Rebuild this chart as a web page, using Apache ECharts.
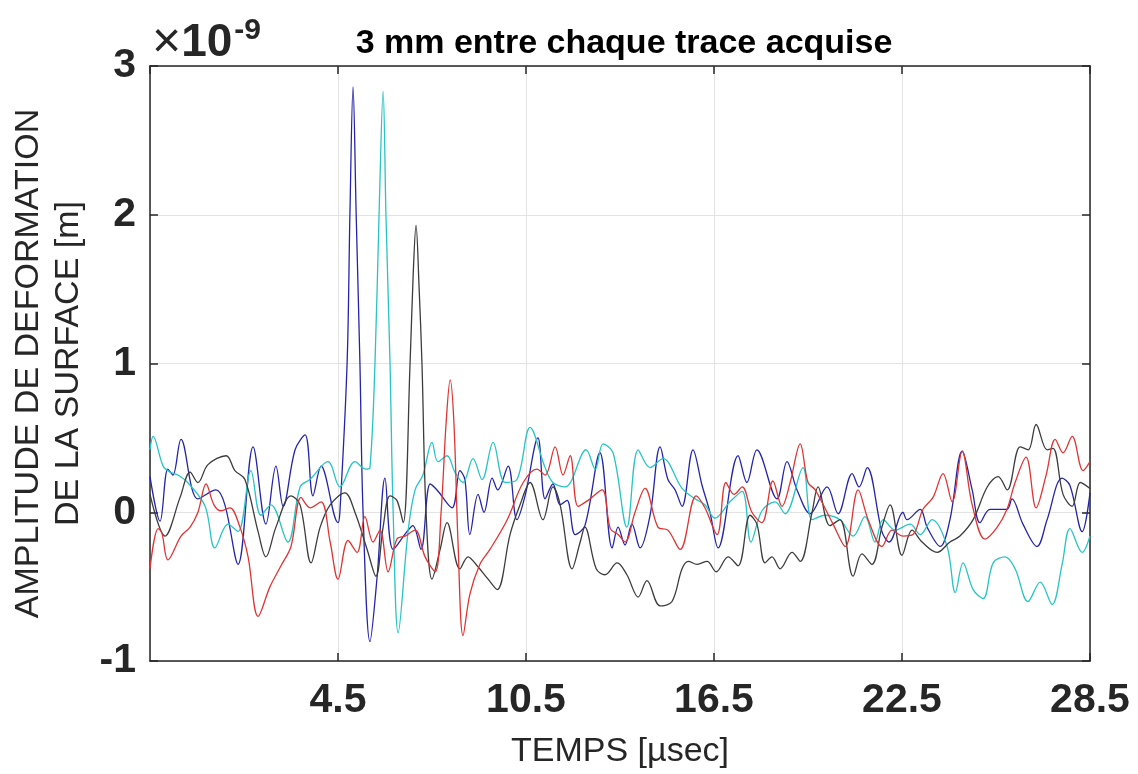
<!DOCTYPE html>
<html>
<head>
<meta charset="utf-8">
<script src="https://cdn.jsdelivr.net/npm/echarts@6/dist/echarts.min.js"></script>
<style>
html,body{margin:0;padding:0;background:#fff;}
#chart{width:1138px;height:774px;}
</style>
</head>
<body>
<div id="chart"></div>
<script>
// Axis definitions (time in µs, amplitude in units of 1e-9 m)
const xTicks = [4.5, 10.5, 16.5, 22.5, 28.5];
const yTicks = [-1, 0, 1, 2, 3];
const titleText = '3 mm entre chaque trace acquise';
const xName = 'TEMPS [µsec]';
const yNameLines = ['AMPLITUDE DE DEFORMATION', 'DE LA SURFACE [m]'];

// Traces: [time µs, amplitude ×1e-9 m]
const traceBlue = [[-1.5,0.24],[-1.18,-0.06],[-0.93,0.29],[-0.77,0.25],[-0.51,0.49],[0.03,0.09],[0.61,0.15],[0.89,0.05],[1.31,-0.35],[1.79,0.44],[2.2,-0.08],[2.52,0.31],[2.75,0.04],[3.13,0.42],[3.45,0.52],[3.7,0.11],[3.96,0.31],[4.5,-0.07],[4.56,0.0],[4.79,1.0],[4.88,2.0],[4.98,2.86],[5.08,2.0],[5.2,1.0],[5.3,0.0],[5.52,-0.87],[5.75,-0.43],[6.0,0.23],[6.26,-0.25],[6.7,-0.13],[6.89,-0.09],[7.15,-0.25],[7.44,0.19],[7.66,0.15],[8.14,0.03],[8.39,0.28],[8.55,0.22],[8.71,-0.15],[8.97,0.12],[9.16,0.0],[9.42,0.23],[9.6,0.15],[9.93,0.31],[10.21,-0.05],[10.47,0.11],[10.88,0.5],[11.11,0.09],[11.36,0.19],[11.59,0.05],[11.81,0.08],[12.07,-0.15],[12.38,-0.09],[12.86,0.4],[13.25,-0.24],[13.44,-0.1],[13.66,-0.22],[13.88,-0.08],[14.14,-0.24],[14.46,-0.02],[14.78,0.44],[15.03,0.22],[15.26,0.15],[15.48,0.04],[15.83,0.42],[16.12,0.18],[16.37,0.0],[16.63,-0.24],[17.27,0.38],[17.55,0.2],[17.87,0.42],[18.51,0.09],[18.83,0.34],[19.15,0.15],[19.57,-0.01],[20.11,0.17],[20.46,-0.01],[20.91,0.26],[21.13,0.17],[21.39,0.3],[21.86,-0.13],[22.09,-0.2],[22.53,0.0],[22.66,-0.05],[23.08,0.02],[23.3,-0.1],[23.72,-0.23],[24.03,-0.05],[24.42,0.41],[24.74,0.15],[24.99,-0.07],[25.31,0.02],[25.85,0.02],[26.01,0.09],[26.36,-0.08],[26.81,-0.23],[27.13,-0.05],[27.61,0.23],[27.86,0.18],[28.25,-0.13],[28.5,0.13]];

const traceCyan = [[-1.5,0.42],[-1.4,0.51],[-1.08,0.31],[-0.86,0.27],[-0.61,0.25],[-0.3,0.2],[0.26,0.04],[0.57,-0.24],[0.99,-0.08],[1.31,-0.13],[1.72,0.28],[2.04,-0.02],[2.36,0.05],[2.9,-0.2],[3.29,0.17],[3.6,0.22],[4.18,0.34],[4.56,0.17],[5.04,0.34],[5.39,0.29],[5.52,0.3],[5.68,1.0],[5.81,2.0],[5.94,2.83],[6.03,2.0],[6.16,1.0],[6.26,0.0],[6.42,-0.81],[6.74,-0.12],[6.96,0.15],[7.21,0.25],[7.5,0.47],[7.69,0.34],[7.98,0.38],[8.23,0.27],[8.49,0.2],[8.81,0.36],[9.1,0.22],[9.45,0.47],[9.83,0.2],[10.21,0.22],[10.63,0.57],[11.11,0.3],[11.36,0.2],[11.75,0.17],[12.42,0.42],[12.71,0.29],[12.96,0.46],[13.28,0.4],[13.72,-0.1],[14.08,0.42],[14.46,0.3],[14.87,0.36],[15.48,0.16],[15.9,0.09],[16.21,0.05],[16.53,-0.04],[17.01,0.07],[17.4,0.14],[17.68,-0.2],[18.03,0.01],[18.45,0.07],[18.77,-0.01],[19.34,0.3],[19.63,-0.05],[20.04,-0.02],[20.52,-0.05],[20.94,-0.16],[21.32,-0.03],[21.64,-0.2],[21.9,-0.05],[22.28,-0.12],[22.76,-0.08],[23.08,-0.15],[23.46,-0.05],[23.94,-0.23],[24.2,-0.54],[24.45,-0.34],[24.77,-0.52],[25.09,-0.58],[25.41,-0.34],[25.79,-0.3],[26.11,-0.38],[26.52,-0.6],[26.91,-0.47],[27.29,-0.62],[27.61,-0.35],[27.86,-0.11],[28.25,-0.27],[28.5,-0.16]];

const traceBlack = [[-1.5,0.12],[-1.02,-0.16],[-0.54,0.1],[-0.22,0.27],[0.03,0.2],[0.35,0.32],[0.93,0.38],[1.21,0.28],[1.53,0.22],[1.95,-0.13],[2.2,-0.3],[2.52,-0.1],[3.0,0.11],[3.29,0.05],[3.64,-0.34],[3.93,-0.1],[4.25,0.05],[4.72,0.13],[5.04,0.0],[5.43,-0.25],[5.71,-0.43],[5.94,-0.1],[6.16,0.11],[6.38,0.08],[6.58,-0.07],[6.8,1.0],[6.9,1.6],[6.99,1.93],[7.09,1.5],[7.18,1.0],[7.31,0.0],[7.5,-0.45],[7.76,-0.25],[7.98,-0.07],[8.39,-0.38],[8.65,-0.3],[8.94,-0.36],[9.29,-0.45],[9.58,-0.52],[9.99,-0.15],[10.31,0.05],[10.63,0.2],[11.04,-0.05],[11.36,0.17],[11.59,0.05],[11.97,-0.38],[12.23,-0.2],[12.38,-0.1],[12.74,-0.38],[13.02,-0.42],[13.41,-0.34],[13.72,-0.42],[14.08,-0.57],[14.36,-0.46],[14.78,-0.63],[15.16,-0.6],[15.48,-0.38],[15.68,-0.33],[15.96,-0.35],[16.28,-0.33],[16.57,-0.4],[16.95,-0.3],[17.27,-0.36],[17.65,-0.02],[17.87,-0.08],[18.13,-0.34],[18.35,-0.3],[18.61,-0.38],[18.99,-0.27],[19.25,-0.33],[19.63,0.0],[19.82,0.17],[20.2,-0.09],[20.52,-0.05],[20.94,-0.43],[21.22,-0.28],[21.54,-0.35],[21.86,-0.1],[22.12,0.05],[22.5,-0.29],[22.82,-0.12],[23.14,-0.2],[23.62,-0.27],[24.03,-0.2],[24.35,-0.16],[24.77,-0.05],[25.22,0.17],[25.57,0.24],[25.86,0.15],[26.27,0.44],[26.53,0.42],[26.78,0.59],[27.13,0.42],[27.32,0.43],[27.64,0.12],[27.93,0.04],[28.19,0.2],[28.5,0.16]];

const traceRed = [[-1.5,-0.38],[-1.24,-0.11],[-1.12,-0.14],[-0.93,-0.32],[-0.51,-0.16],[-0.22,-0.1],[0.03,0.0],[0.29,0.19],[0.54,0.05],[0.77,0.01],[1.05,0.03],[1.37,-0.1],[1.63,-0.3],[1.95,-0.7],[2.33,-0.5],[2.68,-0.36],[3.0,-0.23],[3.32,0.1],[3.61,0.03],[3.96,0.07],[4.25,-0.2],[4.5,-0.45],[4.82,-0.19],[5.11,-0.27],[5.36,-0.03],[5.62,-0.2],[5.84,-0.12],[6.1,-0.4],[6.38,-0.18],[6.64,-0.16],[6.96,-0.12],[7.28,-0.3],[7.6,-0.4],[7.79,0.0],[7.95,0.6],[8.08,0.89],[8.2,0.6],[8.33,-0.2],[8.49,-0.83],[8.71,-0.55],[9.03,-0.35],[9.35,-0.25],[9.9,-0.05],[10.41,0.2],[10.85,0.29],[11.11,0.25],[11.43,0.44],[11.68,0.25],[11.91,0.38],[12.16,0.04],[12.48,0.08],[12.93,0.15],[13.19,-0.11],[13.44,-0.15],[13.66,-0.2],[13.98,0.0],[14.3,0.16],[14.71,-0.1],[15.03,-0.12],[15.42,-0.25],[15.93,0.11],[16.21,0.03],[16.6,-0.15],[16.88,0.2],[17.14,0.12],[17.4,0.17],[17.71,0.0],[18.03,-0.07],[18.38,0.21],[18.67,0.04],[18.93,0.2],[19.25,0.46],[19.5,0.2],[19.73,0.15],[20.3,-0.08],[20.69,-0.23],[21.1,0.15],[21.42,-0.05],[21.86,-0.23],[22.18,-0.12],[22.53,-0.16],[22.85,-0.15],[23.17,0.02],[23.49,0.1],[23.81,0.26],[24.1,0.07],[24.42,0.41],[24.74,0.05],[25.15,-0.18],[25.54,-0.1],[25.85,0.02],[26.11,0.2],[26.46,0.37],[26.78,0.03],[27.1,0.25],[27.39,0.49],[27.64,0.4],[27.93,0.51],[28.28,0.28],[28.5,0.34]];

const seriesNames = ['trace 1', 'trace 2', 'trace 3', 'trace 4'];
const seriesData = [traceBlue, traceCyan, traceBlack, traceRed];
const seriesColors = ['#2424aa', '#26c4c4', '#3c3c3c', '#e03434'];

const AX = '#262626';
const FONT = 'Liberation Sans, Arial, sans-serif';
const chart = echarts.init(document.getElementById('chart'), null, {renderer: 'canvas'});

const xMin = -1.5, xMax = 28.5, xStep = 6;
const yMin = -1, yMax = 3, yStep = 1;

function baseX(pos, labels) {
  return {
    type: 'value', position: pos, min: xMin, max: xMax, interval: xStep,
    axisLine: {show: true, onZero: false, lineStyle: {color: AX, width: 1.5}},
    axisTick: {show: true, inside: true, length: 8, lineStyle: {color: AX, width: 1.5}},
    axisLabel: labels ? {
      show: true, showMinLabel: false, margin: 19, color: AX,
      fontFamily: FONT, fontWeight: 'bold', fontSize: 41,
      formatter: v => (xTicks.some(t => Math.abs(t - v) < 1e-6) ? String(v) : '')
    } : {show: false},
    splitLine: {show: labels, lineStyle: {color: '#e3e3e3', width: 1}}
  };
}
function baseY(pos, labels) {
  return {
    type: 'value', position: pos, min: yMin, max: yMax, interval: yStep,
    axisLine: {show: true, onZero: false, lineStyle: {color: AX, width: 1.5}},
    axisTick: {show: true, inside: true, length: 8, lineStyle: {color: AX, width: 1.5}},
    axisLabel: labels ? {
      show: true, margin: 14, color: AX,
      fontFamily: FONT, fontWeight: 'bold', fontSize: 41,
      formatter: v => (yTicks.indexOf(v) >= 0 ? String(v) : '')
    } : {show: false},
    splitLine: {show: labels, lineStyle: {color: '#e3e3e3', width: 1}}
  };
}

const xAxes = [baseX('bottom', true), baseX('top', false)];
xAxes[0].name = xName;
xAxes[0].nameLocation = 'middle';
xAxes[0].nameGap = 74;
xAxes[0].nameTextStyle = {fontFamily: FONT, fontSize: 34, color: AX};

const yAxes = [baseY('left', true), baseY('right', false)];
yAxes[0].name = yNameLines.join('\n');
yAxes[0].nameLocation = 'middle';
yAxes[0].nameRotate = 90;
yAxes[0].nameGap = 58;
yAxes[0].nameTextStyle = {fontFamily: FONT, fontSize: 34, color: AX, lineHeight: 40};

chart.setOption({
  animation: false,
  backgroundColor: '#ffffff',
  grid: {left: 150, top: 66, right: 48, bottom: 112, containLabel: false},
  title: {
    text: titleText, left: 619, top: 22, textAlign: 'center',
    textStyle: {fontFamily: FONT, fontWeight: 'bold', fontSize: 34, color: '#000'}
  },
  graphic: [{
    type: 'text', left: 152, top: 16,
    style: {
      rich: {
        x: {fontFamily: FONT, fontSize: 50, fontWeight: 'normal', fill: AX},
        m: {fontFamily: FONT, fontSize: 46, fontWeight: 'bold', fill: AX},
        e: {fontFamily: FONT, fontSize: 30, fontWeight: 'bold', fill: AX, verticalAlign: 'top', padding: [0,0,24,2]}
      },
      text: '{x|×}{m|10}{e|-9}'
    }
  }],
  xAxis: xAxes,
  yAxis: yAxes,
  series: seriesData.map((d, i) => ({
    name: seriesNames[i], type: 'line', data: d, xAxisIndex: 0, yAxisIndex: 0,
    showSymbol: false, smooth: 0.35, clip: true,
    lineStyle: {color: seriesColors[i], width: 1.3}
  }))
});
</script>
</body>
</html>
